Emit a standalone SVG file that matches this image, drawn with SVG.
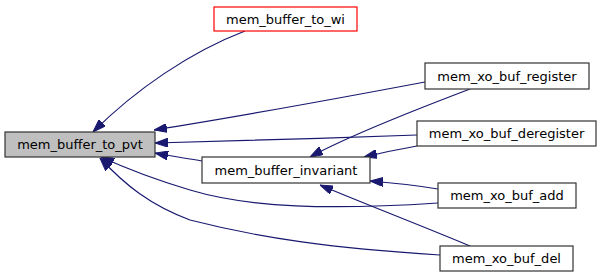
<svg xmlns="http://www.w3.org/2000/svg" width="603" height="277" viewBox="0 0 603 277">
  <style>
    .node rect { fill: #ffffff; stroke: #333333; stroke-width: 1.2; }
    .node.root rect { fill: #bfbfbf; }
    .node.ext rect { stroke: #ff0000; }
    .node text { font-family: "DejaVu Sans", sans-serif; font-size: 13px; fill: #000000; text-anchor: middle; }
    .edges path { fill: none; stroke: #191970; stroke-width: 1.2; marker-end: url(#arrow); }
  </style>
  <defs>
    <marker id="arrow" viewBox="0 0 13 9" markerWidth="13" markerHeight="9" refX="13" refY="4.5" orient="auto" markerUnits="userSpaceOnUse">
      <path d="M0,0 L13,4.5 L0,9 z" fill="#191970" stroke="#191970"/>
    </marker>
  </defs>

  <rect width="603" height="277" fill="#ffffff"/>

  <g class="edges">
    <!-- callers of mem_buffer_to_pvt -->
    <path d="M245,31 C190,52 135,90 93,132"/>
    <path d="M425,82 C340,98 230,118 154,130"/>
    <path d="M417,135 C330,138 240,141 155,143"/>
    <path d="M202,161 C185,158 170,156 155,153"/>
    <path d="M438,203 C330,210 250,208 190,190 C150,178 125,168 101,157"/>
    <path d="M440,255 C330,248 260,238 190,220 C150,205 125,185 100,158"/>
    <!-- callers of mem_buffer_invariant -->
    <path d="M470,89 C420,108 350,135 310,157"/>
    <path d="M417,146 C400,149 385,152 364,157"/>
    <path d="M438,189 C420,186 395,183 370,181"/>
    <path d="M470,246 C420,225 360,202 320,185"/>
  </g>

  <g id="mem_buffer_to_pvt" class="node root">
    <rect x="5" y="132" width="150" height="25"/>
    <text x="80" y="149">mem_buffer_to_pvt</text>
  </g>
  <g id="mem_buffer_to_wi" class="node ext">
    <rect x="214" y="7" width="143" height="24"/>
    <text x="285.5" y="24">mem_buffer_to_wi</text>
  </g>
  <g id="mem_buffer_invariant" class="node">
    <rect x="202" y="157" width="168" height="26"/>
    <text x="286" y="175">mem_buffer_invariant</text>
  </g>
  <g id="mem_xo_buf_register" class="node">
    <rect x="425" y="63" width="164" height="26"/>
    <text x="507" y="81">mem_xo_buf_register</text>
  </g>
  <g id="mem_xo_buf_deregister" class="node">
    <rect x="417" y="121" width="179" height="25"/>
    <text x="506.5" y="138">mem_xo_buf_deregister</text>
  </g>
  <g id="mem_xo_buf_add" class="node">
    <rect x="438" y="183" width="138" height="25"/>
    <text x="507" y="200">mem_xo_buf_add</text>
  </g>
  <g id="mem_xo_buf_del" class="node">
    <rect x="440" y="246" width="133" height="25"/>
    <text x="506.5" y="263">mem_xo_buf_del</text>
  </g>
</svg>
